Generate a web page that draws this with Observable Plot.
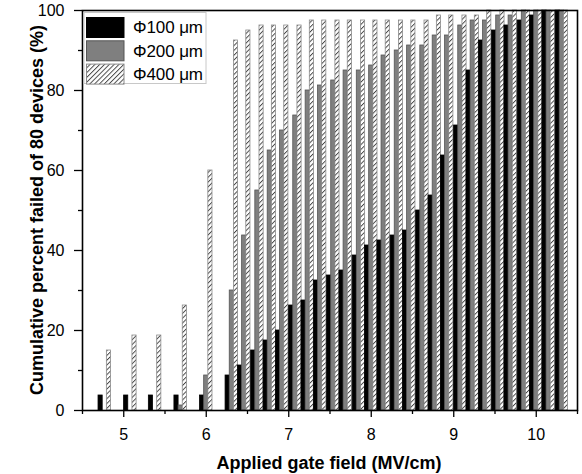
<!DOCTYPE html>
<html>
<head>
<meta charset="utf-8">
<script src="https://cdn.jsdelivr.net/npm/d3@7"></script>
<script src="https://cdn.jsdelivr.net/npm/@observablehq/plot@0.6"></script>
<style>
  body { margin: 0; background: #fff; }
  #chart { width: 582px; height: 474px; }
</style>
</head>
<body>
<div id="chart"></div>
<script>
// Applied gate field (MV/cm) at each measurement step
const fields = [4.77, 5.08, 5.38, 5.69, 6.00, 6.31, 6.46, 6.62, 6.77, 6.92, 7.08, 7.23, 7.38, 7.54, 7.69, 7.85,
                8.00, 8.15, 8.31, 8.46, 8.62, 8.77, 8.92, 9.08, 9.23, 9.38, 9.54, 9.69, 9.85, 10.00, 10.15, 10.31];
// Cumulative percent failed (%) per device diameter
const phi100 = [3.75, 3.75, 3.75, 3.75, 3.75, 8.75, 11.25, 15, 17.5, 20, 26.25, 27.5, 32.5, 33.75, 35, 38.75,
                41.25, 42.5, 43.75, 45, 50, 53.75, 63.75, 71.25, 85, 92.5, 95, 96.25, 97.5, 98.75, 100, 100];
const phi200 = [0, 0, 0, 1.25, 8.75, 30, 43.75, 55, 65, 70, 73.75, 80, 81.25, 82.5, 85, 85,
                86.25, 88.75, 90, 91.25, 91.25, 93.75, 93.75, 96.25, 97.5, 97.5, 98.75, 98.75, 100, 100, 100, 100];
const phi400 = [15, 18.75, 18.75, 26.25, 60, 92.5, 95, 96.25, 96.25, 96.25, 96.25, 97.5, 97.5, 97.5, 97.5, 97.5,
                97.5, 97.5, 97.5, 97.5, 97.5, 98.75, 98.75, 98.75, 98.75, 100, 100, 100, 100, 100, 100, 100];
const seriesNames = ["Φ100 μm", "Φ200 μm", "Φ400 μm"];
const seriesFill = ["#000000", "#7f7f7f", "url(#hatch)"];
const seriesStroke = ["#000000", "#555555", "#8a8a8a"];
const xTicks = [5, 6, 7, 8, 9, 10];
const xMinor = [4.5, 5.5, 6.5, 7.5, 8.5, 9.5, 10.5];
const yTicks = [0, 20, 40, 60, 80, 100];
const yMinor = [10, 30, 50, 70, 90];
const xTitle = "Applied gate field (MV/cm)";
const yTitle = "Cumulative percent failed of 80 devices (%)";

const barW = 0.0505; // bar width in field units
const allSeries = [phi100, phi200, phi400];
const rows = [];
fields.forEach((f, i) => {
  allSeries.forEach((vals, j) => {
    if (vals[i] > 0) rows.push({
      x1: f + (j - 1.5) * barW,
      x2: f + (j - 0.5) * barW,
      y: vals[i],
      fill: seriesFill[j],
      stroke: seriesStroke[j]
    });
  });
});

const font = "Arial, 'Liberation Sans', Helvetica, sans-serif";

const chart = Plot.plot({
  width: 582,
  height: 474,
  marginLeft: 82,
  marginRight: 5,
  marginTop: 10,
  marginBottom: 64,
  style: { fontFamily: font, fontSize: "16px", background: "white", color: "black" },
  x: { domain: [4.5, 10.5], label: null },
  y: { domain: [0, 100], label: null },
  color: { type: "identity" },
  marks: [
    Plot.rectY(rows, { x1: "x1", x2: "x2", y: "y", fill: "fill", stroke: "stroke", strokeWidth: 0.8, inset: 0 }),
    Plot.axisX(xMinor, { tickSize: 4, fill: "none", stroke: "black", strokeWidth: 1.3, label: null }),
    Plot.axisX(xTicks, { tickSize: 7, tickPadding: 11, fontSize: 16, stroke: "black", fill: "black", strokeWidth: 1.3, label: null }),
    Plot.axisY(yMinor, { tickSize: 4, fill: "none", stroke: "black", strokeWidth: 1.3, label: null }),
    Plot.axisY(yTicks, { tickSize: 8, tickPadding: 10, fontSize: 16, stroke: "black", fill: "black", strokeWidth: 1.3, label: null }),
    Plot.frame({ stroke: "black", strokeWidth: 1.6 })
  ]
});

const svg = d3.select(chart);
svg.insert("defs", ":first-child").html(
  '<pattern id="hatch" patternUnits="userSpaceOnUse" width="3.4" height="3.4" patternTransform="rotate(45)">' +
  '<rect width="3.4" height="3.4" fill="white"/>' +
  '<line x1="0.5" y1="0" x2="0.5" y2="3.4" stroke="#3a3a3a" stroke-width="0.9"/></pattern>'
);
svg.selectAll("g[aria-label='x-axis tick label'] text, g[aria-label='y-axis tick label'] text")
  .attr("font-size", 16);

// Axis titles
svg.append("text")
  .attr("x", 329).attr("y", 469)
  .attr("text-anchor", "middle")
  .attr("font-family", font).attr("font-weight", "bold").attr("font-size", 18)
  .text(xTitle);
svg.append("text")
  .attr("transform", "translate(43,210) rotate(-90)")
  .attr("text-anchor", "middle")
  .attr("font-family", font).attr("font-weight", "bold").attr("font-size", 18)
  .text(yTitle);

// Legend
const leg = svg.append("g").attr("font-family", font).attr("font-size", 17).attr("text-anchor", "start");
leg.append("rect").attr("x", 84).attr("y", 12.5).attr("width", 122).attr("height", 71)
  .attr("fill", "white").attr("stroke", "#c8c8c8").attr("stroke-width", 1);
seriesNames.forEach((name, j) => {
  const y0 = 17.5 + j * 23.3;
  leg.append("rect").attr("x", 86.5).attr("y", y0).attr("width", 37.5).attr("height", 20)
    .attr("fill", seriesFill[j]).attr("stroke", seriesStroke[j]).attr("stroke-width", 1);
  leg.append("text").attr("x", 133).attr("y", y0 + 10).attr("dy", "0.35em")
    .attr("text-anchor", "start")
    .attr("textLength", 70).attr("lengthAdjust", "spacing")
    .text(name);
});

document.getElementById("chart").appendChild(chart);
</script>
</body>
</html>
